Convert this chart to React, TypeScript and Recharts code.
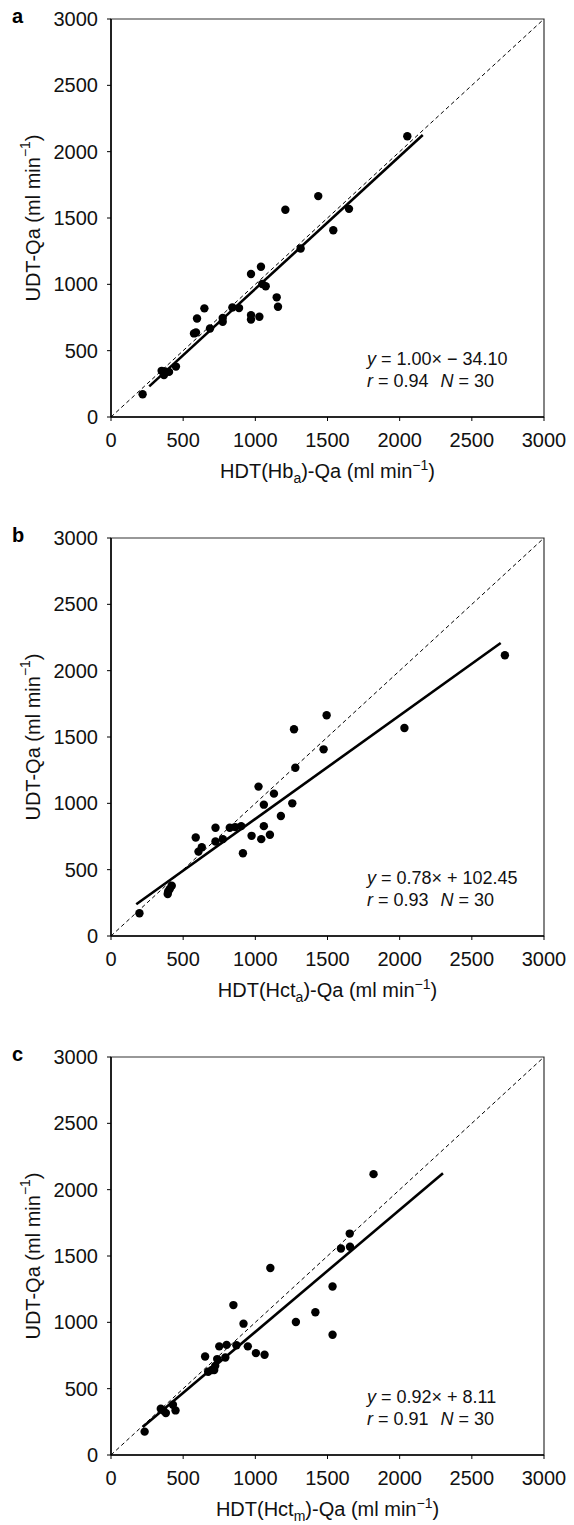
import React from 'react';
import {
  ScatterChart,
  Scatter,
  XAxis,
  YAxis,
  ReferenceLine,
  ReferenceArea,
} from 'recharts';

// readings (ml/min)
const ticks = [0, 500, 1000, 1500, 2000, 2500, 3000];

const hbX = [219, 351, 367, 374, 402, 450, 575, 589, 596, 647, 686, 774, 774, 841, 887, 970, 970, 970, 1028, 1039, 1048, 1072, 1148, 1157, 1208, 1314, 1436, 1540, 1649, 2053];
const hbY = [171, 348, 317, 343, 340, 380, 630, 637, 743, 819, 667, 718, 746, 826, 821, 1078, 768, 735, 756, 1133, 1003, 985, 902, 831, 1562, 1270, 1665, 1408, 1569, 2116];

const hctaX = [197, 393, 396, 407, 421, 587, 606, 629, 724, 724, 775, 823, 860, 902, 914, 974, 1022, 1041, 1059, 1059, 1101, 1129, 1177, 1256, 1268, 1277, 1473, 1494, 2033, 2729];
const hctaY = [172, 316, 336, 354, 379, 742, 636, 669, 816, 712, 730, 816, 821, 828, 624, 755, 1126, 730, 990, 828, 763, 1073, 904, 1000, 1558, 1268, 1407, 1664, 1568, 2116];

const hctmX = [233, 345, 363, 380, 429, 447, 652, 673, 699, 715, 722, 736, 750, 792, 801, 848, 869, 918, 948, 1004, 1064, 1104, 1281, 1416, 1535, 1535, 1593, 1654, 1656, 1819];
const hctmY = [176, 349, 336, 316, 379, 336, 743, 628, 641, 641, 672, 723, 819, 735, 830, 1130, 827, 990, 819, 768, 756, 1410, 1003, 1076, 1270, 906, 1557, 1669, 1570, 2117];

const panelLetters = ['a', 'b', 'c'];
const subscripts = ['a', 'a', 'm'];
const subjects = ['Hb', 'Hct', 'Hct'];
const slopes = [1.0, 0.78, 0.92];
const intercepts = [-34.1, 102.45, 8.11];
const fitRanges = [[265, 2160], [175, 2700], [220, 2300]];
const slopeText = ['1.00', '0.78', '0.92'];
const interceptText = ['\u2212 34.10', '+ 102.45', '+ 8.11'];
const rText = ['0.94', '0.93', '0.91'];
const nText = ['30', '30', '30'];

const FONT = '"Liberation Sans", Arial, Helvetica, sans-serif';

const Dot = (p: any) => <circle cx={p.cx} cy={p.cy} r={4.2} fill="#000" />;

function Panel({ idx, xs, ys, height }: { idx: number; xs: number[]; ys: number[]; height: number }) {
  const data = xs.map((x, i) => ({ x, y: ys[i] }));
  const [x1, x2] = fitRanges[idx];
  const fit = [
    { x: x1, y: slopes[idx] * x1 + intercepts[idx] },
    { x: x2, y: slopes[idx] * x2 + intercepts[idx] },
  ];
  const top = 19;
  const plotH = 398;
  const xAxisH = height - top - plotH;

  const xTitle = ({ viewBox }: any) => {
    const cx = viewBox.x + viewBox.width / 2;
    const y = viewBox.y + 61;
    return (
      <text x={cx} y={y} textAnchor="middle" fontSize={20} fontFamily={FONT} fill="#111">
        HDT({subjects[idx]}
        <tspan dy={5} fontSize={14}>{subscripts[idx]}</tspan>
        <tspan dy={-5}>)-Qa (ml min</tspan>
        <tspan dy={-8} fontSize={14}>{'\u22121'}</tspan>
        <tspan dy={8}>)</tspan>
      </text>
    );
  };

  const yTitle = ({ viewBox }: any) => {
    const cx = 33;
    const cy = viewBox.y + viewBox.height / 2;
    return (
      <text
        x={cx}
        y={cy}
        transform={`rotate(-90 ${cx} ${cy})`}
        textAnchor="middle"
        dominantBaseline="central"
        fontSize={20}
        fontFamily={FONT}
        fill="#111"
      >
        UDT-Qa (ml min
        <tspan dy={-8} fontSize={14}>{'\u22121'}</tspan>
        <tspan dy={8}>)</tspan>
      </text>
    );
  };

  const equation = ({ viewBox }: any) => {
    const x = viewBox.x + 256;
    const y = viewBox.y + 346;
    return (
      <text x={x} y={y} fontSize={18} fontFamily={FONT} fill="#111">
        <tspan fontStyle="italic">y</tspan>
        <tspan>{` = ${slopeText[idx]}\u00d7 ${interceptText[idx]}`}</tspan>
        <tspan x={x} dy={22} fontStyle="italic">r</tspan>
        <tspan>{` = ${rText[idx]}`}</tspan>
        <tspan dx={12} fontStyle="italic">N</tspan>
        <tspan>{` = ${nText[idx]}`}</tspan>
      </text>
    );
  };

  return (
    <div style={{ position: 'relative', width: 574, height }}>
      <div
        style={{
          position: 'absolute',
          left: 12,
          top: 4,
          fontFamily: FONT,
          fontWeight: 'bold',
          fontSize: 20,
          lineHeight: '24px',
        }}
      >
        {panelLetters[idx]}
      </div>
      <ScatterChart width={574} height={height} margin={{ top, right: 30, bottom: 0, left: 0 }}>
        <XAxis
          type="number"
          dataKey="x"
          domain={[0, 3000]}
          ticks={ticks}
          height={xAxisH}
          tickSize={4}
          tickMargin={12}
          axisLine={{ stroke: '#000', strokeWidth: 1.5 }}
          tickLine={{ stroke: '#000' }}
          tick={{ fill: '#111', fontSize: 20, fontFamily: FONT }}
          label={{ content: xTitle }}
        />
        <YAxis
          type="number"
          dataKey="y"
          domain={[0, 3000]}
          ticks={ticks}
          width={111}
          tickSize={4}
          tickMargin={9}
          axisLine={{ stroke: '#000', strokeWidth: 1.5 }}
          tickLine={{ stroke: '#000' }}
          tick={{ fill: '#111', fontSize: 20, fontFamily: FONT }}
          label={{ content: yTitle }}
        />
        <ReferenceArea x1={0} x2={3000} y1={0} y2={3000} fill="none" fillOpacity={0} stroke="#333" strokeWidth={1.2} label={{ content: equation }} />
        <ReferenceLine
          segment={[{ x: 0, y: 0 }, { x: 3000, y: 3000 }]}
          stroke="#000"
          strokeWidth={1}
          strokeDasharray="4 3"
        />
        <ReferenceLine
          segment={[fit[0], fit[1]]}
          stroke="#000"
          strokeWidth={2.6}
        />
        <Scatter data={data} fill="#000" shape={Dot} isAnimationActive={false} />
      </ScatterChart>
    </div>
  );
}

export default function App() {
  return (
    <div style={{ position: 'absolute', left: 0, top: 0, width: 574, background: '#fff' }}>
      <Panel idx={0} xs={hbX} ys={hbY} height={519} />
      <Panel idx={1} xs={hctaX} ys={hctaY} height={519} />
      <Panel idx={2} xs={hctmX} ys={hctmY} height={487} />
    </div>
  );
}
